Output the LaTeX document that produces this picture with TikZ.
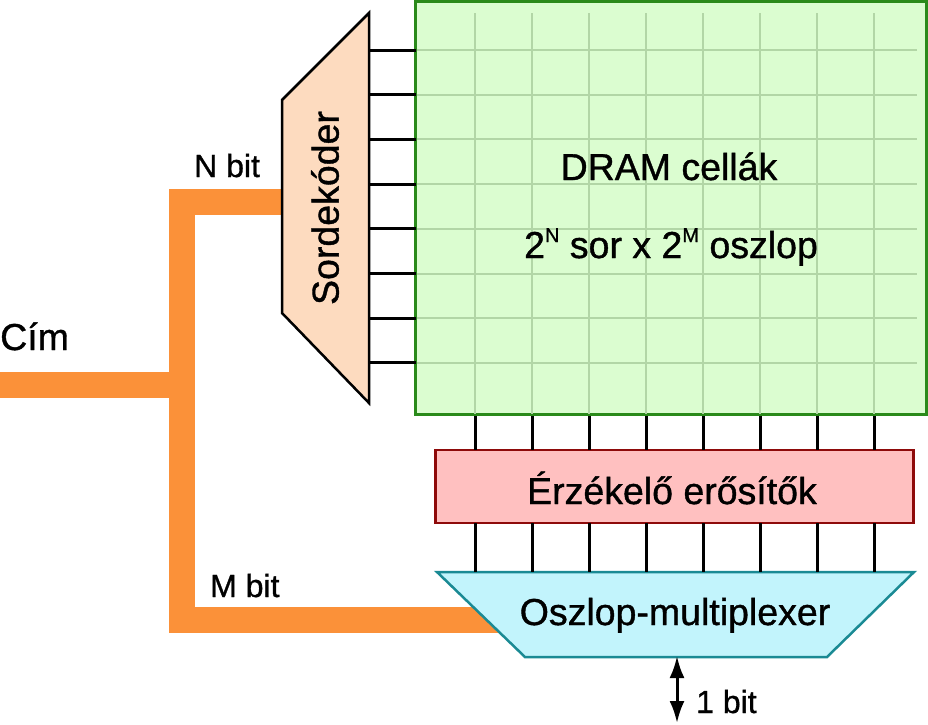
\documentclass[tikz,border=0pt]{standalone}
\usepackage{fontspec}
\setmainfont{Liberation Sans}[FakeBold=1]
\usetikzlibrary{arrows.meta}
\definecolor{busorange}{HTML}{FB9139}
\definecolor{dramfill}{HTML}{DBFDD0}
\definecolor{dramedge}{HTML}{2A8A1A}
\definecolor{gridcol}{HTML}{B2D6A6}
\definecolor{decfill}{HTML}{FDDBBF}
\definecolor{ampfill}{HTML}{FFC0C0}
\definecolor{ampedge}{HTML}{8E0A0A}
\definecolor{muxfill}{HTML}{C2F4FC}
\definecolor{muxedge}{HTML}{1A8A94}
\tikzset{
  bus/.style={line width=26pt, busorange, line join=miter},
  wire/.style={line width=3pt, black},
  gridline/.style={line width=2pt, gridcol},
  bigtext/.style={font=\fontsize{37.5}{40}\selectfont, inner sep=0pt},
  smalltext/.style={font=\fontsize{32}{34}\selectfont, inner sep=0pt},
  dblarrow/.style={line width=3pt, black, >={Latex[length=22pt,width=15pt]}, <->},
}
\newcommand{\supx}[1]{\raisebox{16pt}{\fontsize{20}{20}\selectfont #1}}
\begin{document}
\begin{tikzpicture}[x=1pt,y=-1pt]
\useasboundingbox (0,0) rectangle (928,724);
% address bus
\coordinate (cimend) at (0,385);
\coordinate (junc) at (182,385);
\coordinate (ntop) at (182,202);
\coordinate (mbot) at (182,620);
\coordinate (decin) at (283,202);
\coordinate (muxin) at (500,620);
\draw[bus] (cimend) -- (junc);
\draw[bus] (decin) -- (ntop) -- (mbot) -- (muxin);
% DRAM array
\node[draw=dramedge, fill=dramfill, line width=3pt, minimum width=511pt, minimum height=413pt, inner sep=0pt] (dram) at (671,208) {};
\foreach \i in {0,...,7} {
  \draw[gridline] (475+57*\i,13) -- (475+57*\i,414);
  \draw[gridline] (417,50+44.7*\i) -- (917,50+44.7*\i);
}
% row decoder
\coordinate (d1) at (369,13);
\coordinate (d2) at (369,403);
\coordinate (d3) at (282,313);
\coordinate (d4) at (282,100);
\draw[fill=decfill, draw=black, line width=2.5pt, line join=miter] (d1) -- (d2) -- (d3) -- (d4) -- cycle;
\node[bigtext, rotate=90] (declabel) at (325,208) {Sordekóder};
\foreach \i in {0,...,7} {
  \draw[wire] (369,50+44.7*\i) -- (416,50+44.7*\i);
}
% sense amplifiers
\node[draw=ampedge, fill=ampfill, line width=2.5pt, minimum width=478pt, minimum height=73pt, inner sep=0pt] (amp) at (674.5,486.5) {};
\node[bigtext, anchor=base] (amplabel) at (672,504) {Érzékelő erősítők};
% column mux
\coordinate (m1) at (437,572);
\coordinate (m2) at (914,572);
\coordinate (m3) at (827,657);
\coordinate (m4) at (525,657);
\draw[fill=muxfill, draw=muxedge, line width=2.5pt, line join=miter] (m1) -- (m2) -- (m3) -- (m4) -- cycle;
\node[bigtext, anchor=base] (muxlabel) at (675,625) {Oszlop-multiplexer};
\foreach \i in {0,...,7} {
  \draw[wire] (475+57*\i,416) -- (475+57*\i,450);
  \draw[wire] (475+57*\i,523) -- (475+57*\i,572);
}
% output
\coordinate (outtop) at (677,656);
\coordinate (outbot) at (677,723);
\draw[dblarrow] (outtop) -- (outbot);
% texts
\node[bigtext, anchor=base] (t1) at (669,180) {DRAM cellák};
\node[bigtext, anchor=base] (t2) at (671,258) {2\supx{N} sor x 2\supx{M} oszlop};
\node[bigtext, anchor=base west] (cim) at (0,350) {Cím};
\node[smalltext, anchor=base west] (nbit) at (194,177) {N bit};
\node[smalltext, anchor=base west] (mbit) at (210,597) {M bit};
\node[smalltext, anchor=base west] (onebit) at (696,713) {1 bit};
\end{tikzpicture}
\end{document}
